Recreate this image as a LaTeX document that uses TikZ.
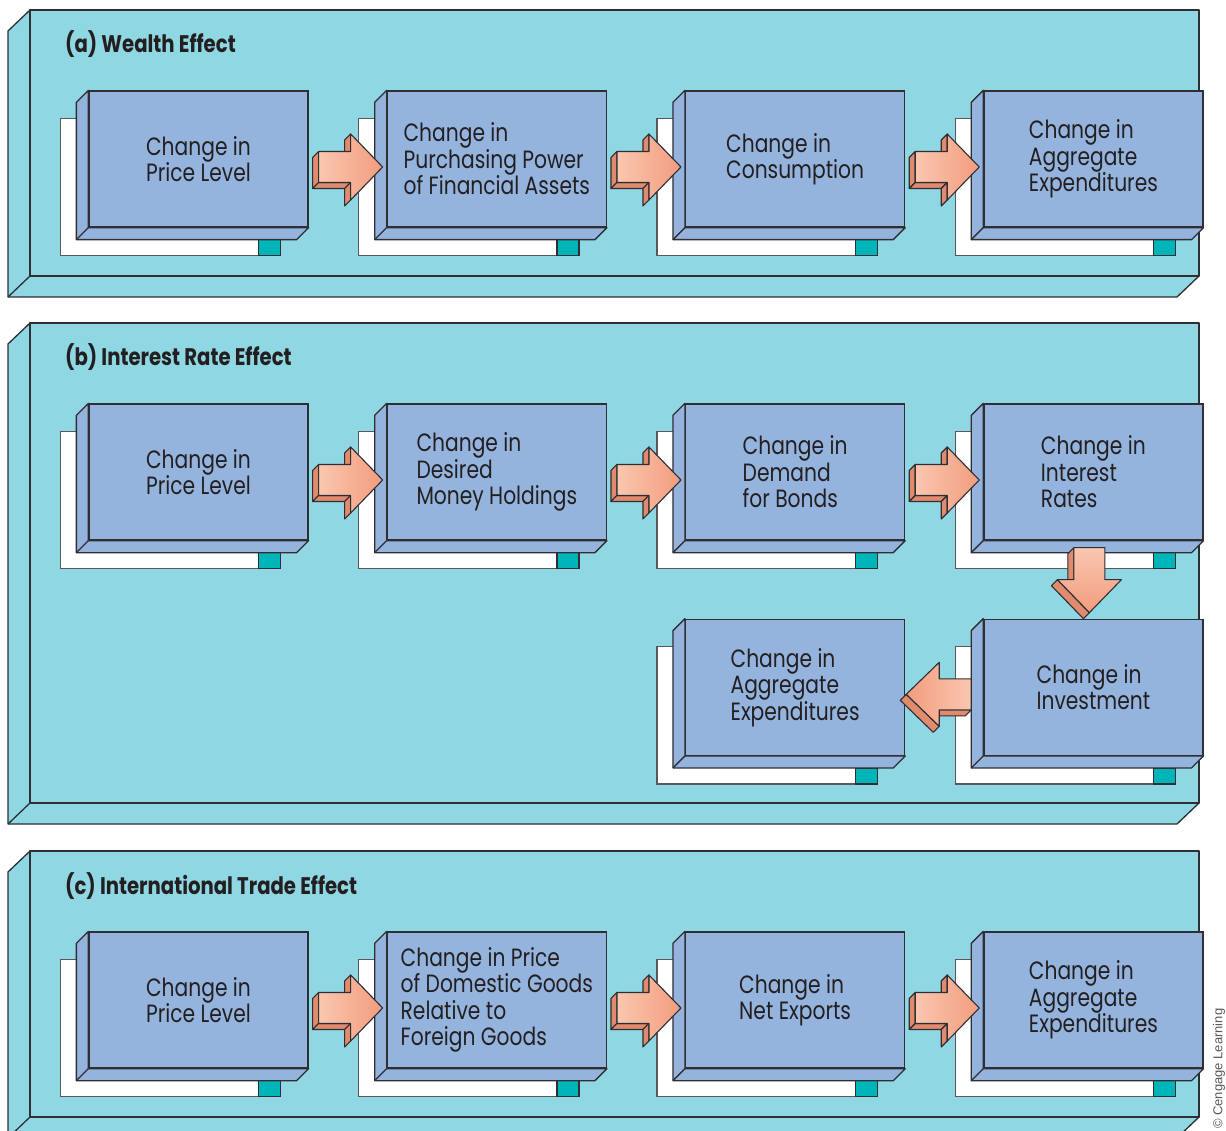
\documentclass[tikz,border=0pt]{standalone}
\usepackage{fontspec}
\usetikzlibrary{positioning, calc}
\newfontfamily\boxfont{Poppins}[FakeStretch=0.81]
\newfontfamily\titlefont{Poppins}[FakeStretch=0.82]
\newfontfamily\notefont{Liberation Sans}
\definecolor{panelc}{HTML}{8FD7E3}
\definecolor{boxc}{HTML}{94B4DE}
\definecolor{tabc}{HTML}{00B5BA}
\definecolor{edgec}{HTML}{2E2E33}
\definecolor{inkc}{HTML}{231F20}
\definecolor{arrlight}{HTML}{FAC7AF}
\definecolor{arrdark}{HTML}{F29C7E}
\definecolor{arrsidec}{HTML}{E08A6E}
\pgfdeclarelayer{panel}
\pgfdeclarelayer{depth}
\pgfsetlayers{panel,depth,main}

\begin{document}
\begin{tikzpicture}[x=1pt, y=-1pt,
    effbox/.style={rectangle, draw=edgec, line width=1.3pt, fill=boxc,
      minimum width=219pt, minimum height=136pt, inner sep=0pt, align=left,
      text=inkc, font={\boxfont\fontsize{25}{26.5}\selectfont}},
    boxside/.style={draw=edgec, line width=1.3pt, fill=boxc, line join=round},
    backing/.style={draw=edgec!80, line width=1.2pt, fill=white},
    tab/.style={draw=edgec, line width=1.2pt, fill=tabc},
    panelface/.style={draw=edgec, line width=1.3pt, fill=panelc, line join=round},
    ttl/.style={anchor=base west, inner sep=0pt, text=inkc,
      font={\titlefont\bfseries\fontsize{24}{24}\selectfont}},
    arrside/.style={draw=edgec, line width=1.1pt, fill=arrsidec, line join=round},
    arrface/.style={draw=edgec, line width=1.1pt, line join=round},
    rflow/.pic={
      \filldraw[arrside] (-64,-15.5) -- (-64,15.5) -- (-70,21.5) -- (-70,-9.5) -- cycle;
      \filldraw[arrside] (-64,15.5) -- (-32,15.5) -- (-38,21.5) -- (-70,21.5) -- cycle;
      \filldraw[arrside] (-32,-33) -- (-32,-15.5) -- (-38,-9.5) -- (-38,-27) -- cycle;
      \filldraw[arrside] (-32,15.5) -- (-32,33) -- (-38,39) -- (-38,21.5) -- cycle;
      \draw[arrface, left color=arrlight, right color=arrdark] (0,0) -- (-32,-33)
        -- (-32,-15.5) -- (-64,-15.5) -- (-64,15.5) -- (-32,15.5) -- (-32,33) -- cycle;
    },
    dflow/.pic={
      \filldraw[arrside] (-15.5,-65) -- (-15.5,-33) -- (-21.5,-27) -- (-21.5,-59) -- cycle;
      \filldraw[arrside] (-32,-33) -- (0,0) -- (-6,6) -- (-38,-27) -- cycle;
      \draw[arrface, top color=arrlight, bottom color=arrdark] (0,0) -- (-32,-33)
        -- (-15.5,-33) -- (-15.5,-65) -- (15.5,-65) -- (15.5,-33) -- (32,-33) -- cycle;
    },
    lflow/.pic={
      \filldraw[arrside] (33,15.5) -- (65,15.5) -- (59,21.5) -- (27,21.5) -- cycle;
      \filldraw[arrside] (0,0) -- (33,32) -- (27,38) -- (-6,6) -- cycle;
      \draw[arrface, left color=arrdark, right color=arrlight] (0,0) -- (33,-32)
        -- (33,-15.5) -- (65,-15.5) -- (65,15.5) -- (33,15.5) -- (33,32) -- cycle;
    },
  ]
  \useasboundingbox (0,0) rectangle (1226,1131);

  % (a) wealth effect
  \node[effbox] (a1) at (198.5,159) {Change in\\Price Level};
  \node[effbox, right=78pt of a1] (a2) {Change in\\Purchasing Power\\of Financial Assets};
  \node[effbox, right=78pt of a2] (a3) {Change in\\Consumption};
  \node[effbox, right=78pt of a3] (a4) {Change in\\Aggregate\\Expenditures};

  % (b) interest rate effect
  \node[effbox] (b1) at (198.5,472) {Change in\\Price Level};
  \node[effbox, right=78pt of b1] (b2) {Change in\\Desired\\Money Holdings};
  \node[effbox, right=78pt of b2] (b3) {Change in\\Demand\\for Bonds};
  \node[effbox, right=78pt of b3] (b4) {Change in\\Interest\\Rates};
  \node[effbox, below=78pt of b4] (b5) {Change in\\Investment};
  \node[effbox, left=78pt of b5] (b6) {Change in\\Aggregate\\Expenditures};

  % (c) international trade effect
  \node[effbox] (c1) at (198.5,1000) {Change in\\Price Level};
  \node[effbox, right=78pt of c1] (c2) {Change in Price\\of Domestic Goods\\Relative to\\Foreign Goods};
  \node[effbox, right=78pt of c2] (c3) {Change in\\Net Exports};
  \node[effbox, right=78pt of c3] (c4) {Change in\\Aggregate\\Expenditures};

  % panels
  \begin{pgfonlayer}{panel}
    \foreach \top/\bot in {10/276, 323/803, 851/1117} {
      \draw[panelface] (30,\top) -- (8,\top+21) -- (8,\bot+21) -- (1177,\bot+21)
        -- (1199,\bot) -- (30,\bot) -- cycle;
      \draw[edgec, line width=1.3pt] (8,\bot+21) -- (30,\bot);
      \draw[panelface] (30,\top) rectangle (1199,\bot);
    }
  \end{pgfonlayer}
  \node[ttl] (ta) at (65,53) {(a) Wealth Effect};
  \node[ttl] (tb) at (65,366) {(b) Interest Rate Effect};
  \node[ttl] (tc) at (65,894) {(c) International Trade Effect};

  % depth of the boxes
  \begin{pgfonlayer}{depth}
    \foreach \n in {a1,a2,a3,a4,b1,b2,b3,b4,b5,b6,c1,c2,c3,c4} {
      \draw[backing] ([shift={(-28,28)}]\n.north west) rectangle ([shift={(-28,28)}]\n.south east);
      \draw[tab] ([shift={(-50,12)}]\n.south east) rectangle ([shift={(-28,28)}]\n.south east);
      \draw[boxside] (\n.north west) -- ++(-12,12) -- ([shift={(-12,12)}]\n.south west)
        -- ([shift={(-12,12)}]\n.south east) -- (\n.south east) -- (\n.south west) -- cycle;
      \draw[boxside] (\n.south west) -- ++(-12,12);
    }
  \end{pgfonlayer}

  % flow
  \foreach \p/\q in {a1/a2, a2/a3, a3/a4, b1/b2, b2/b3, b3/b4, c1/c2, c2/c3, c3/c4}
    \pic at ($(\q.west)+(-4,8)$) {rflow};
  \pic at ($(b5.north)+(-4,-6)$) {dflow};
  \pic at ($(b6.east)+(1,7)$) {lflow};

  \node[rotate=90, anchor=west, inner sep=0pt, text=black!65,
    font={\notefont\fontsize{13}{13}\selectfont}] (credit) at (1219,1129) {© Cengage Learning};
\end{tikzpicture}
\end{document}
